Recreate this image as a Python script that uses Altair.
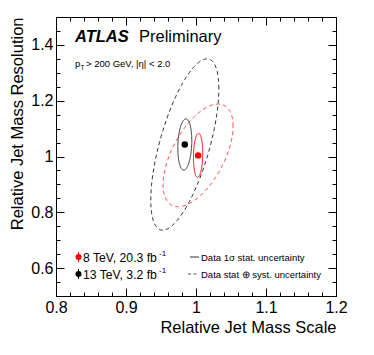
import altair as alt
import numpy as np
import pandas as pd

FONT = "Liberation Sans"

# ---- axis tick values ----
x_major = [0.8, 0.9, 1.0, 1.1, 1.2]
x_minor = [0.8, 0.82, 0.84, 0.86, 0.88, 0.9, 0.92, 0.94, 0.96, 0.98, 1.0,
           1.02, 1.04, 1.06, 1.08, 1.1, 1.12, 1.14, 1.16, 1.18, 1.2]
y_major = [0.6, 0.8, 1.0, 1.2, 1.4]
y_minor = [0.5, 0.55, 0.6, 0.65, 0.7, 0.75, 0.8, 0.85, 0.9, 0.95, 1.0, 1.05,
           1.1, 1.15, 1.2, 1.25, 1.3, 1.35, 1.4, 1.45, 1.5]

# ---- measured points ----
point_names = ["8 TeV, 20.3 fb-1", "13 TeV, 3.2 fb-1"]
point_x = [1.003, 0.984]
point_y = [1.004, 1.043]
point_colors = ["#ff0000", "#000000"]

# ---- uncertainty contours (center, half-extent in x / y, correlation) ----
ell_names = ["13 TeV stat", "8 TeV stat", "13 TeV syst", "8 TeV syst"]
ell_cx = [0.984, 1.003, 0.984, 1.003]
ell_cy = [1.043, 1.004, 1.043, 1.004]
ell_sx = [0.0100, 0.0066, 0.0486, 0.0500]
ell_sy = [0.0920, 0.0790, 0.3070, 0.1840]
ell_rho = [0.15, 0.10, 0.65, 0.57]

rows = []
tt = np.linspace(0, 2 * np.pi, 181)
for n, cx, cy, sx, sy, r in zip(ell_names, ell_cx, ell_cy, ell_sx, ell_sy, ell_rho):
    for i, t in enumerate(tt):
        rows.append({
            "name": n, "i": i,
            "x": cx + sx * np.cos(t),
            "y": cy + sy * (r * np.cos(t) + np.sqrt(1 - r * r) * np.sin(t)),
        })
ell_df = pd.DataFrame(rows)
pts_df = pd.DataFrame({"name": point_names, "x": point_x, "y": point_y, "c": point_colors})

xs = alt.Scale(domain=[0.8, 1.2], nice=False, zero=False)
ys = alt.Scale(domain=[0.5, 1.5], nice=False, zero=False)

LBL = "toString(round(datum.value*10)/10)"
common = dict(domain=False, grid=False, tickColor="black", tickWidth=1)

ax_b_major = alt.Axis(orient="bottom", values=x_major, tickSize=8, offset=-8,
                      labelExpr=LBL, labelFont=FONT, labelFontSize=16, labelColor="black",
                      labelPadding=3, labelFlush=False, labelOverlap=False,
                      title="Relative Jet Mass Scale", titleAnchor="end", titleFont=FONT,
                      titleFontSize=16.5, titleFontWeight="normal", titleColor="black",
                      titlePadding=4, **common)
ax_b_minor = alt.Axis(orient="bottom", values=x_minor, tickSize=4, offset=-4,
                      labels=False, title=None, **common)
ax_t_major = alt.Axis(orient="top", values=x_major, tickSize=8, offset=-8,
                      labels=False, title=None, **common)
ax_t_minor = alt.Axis(orient="top", values=x_minor, tickSize=4, offset=-4,
                      labels=False, title=None, **common)

ax_l_major = alt.Axis(orient="left", values=y_major, tickSize=8, offset=-8,
                      labelExpr=LBL, labelFont=FONT, labelFontSize=16, labelColor="black",
                      labelPadding=3, labelFlush=False, labelOverlap=False,
                      title="Relative Jet Mass Resolution", titleAnchor="end", titleFont=FONT,
                      titleFontSize=16.5, titleFontWeight="normal", titleColor="black",
                      titlePadding=5, **common)
ax_l_minor = alt.Axis(orient="left", values=y_minor, tickSize=4, offset=-4,
                      labels=False, title=None, **common)
ax_r_major = alt.Axis(orient="right", values=y_major, tickSize=8, offset=-8,
                      labels=False, title=None, **common)
ax_r_minor = alt.Axis(orient="right", values=y_minor, tickSize=4, offset=-4,
                      labels=False, title=None, **common)


def ellipse(name, color, xaxis, yaxis, dash=None):
    kw = dict(color=color, strokeWidth=1)
    if dash is not None:
        kw["strokeDash"] = dash
    return alt.Chart(ell_df).transform_filter(
        alt.datum.name == name
    ).mark_line(**kw).encode(
        x=alt.X("x:Q", scale=xs, axis=xaxis),
        y=alt.Y("y:Q", scale=ys, axis=yaxis),
        order=alt.Order("i:Q"),
    )


l_syst13 = ellipse("13 TeV syst", "#303030", ax_b_major, ax_l_major, [4, 3])
l_syst8 = ellipse("8 TeV syst", "#ff4a4a", ax_b_minor, ax_l_minor, [4, 3])
l_stat13 = ellipse("13 TeV stat", "#333333", ax_t_major, ax_r_major)
l_stat8 = ellipse("8 TeV stat", "#ff0000", ax_t_minor, ax_r_minor)

points = alt.Chart(pts_df).mark_point(filled=True, size=42, opacity=1).encode(
    x=alt.X("x:Q", scale=xs, axis=None),
    y=alt.Y("y:Q", scale=ys, axis=None),
    color=alt.Color("c:N", scale=None),
)

# ---- annotations (page pixel positions converted to view coordinates) ----
OX, OY = 56, 17


def txt(s, px, py, size, color="black", weight="normal", style="normal", align="left"):
    return alt.Chart(pd.DataFrame({"t": [s]})).mark_text(
        font=FONT, fontSize=size, fontWeight=weight, fontStyle=style, color=color,
        align=align, baseline="alphabetic",
    ).encode(x=alt.value(px - OX), y=alt.value(py - OY), text="t:N")


def dot(px, py, color):
    d = pd.DataFrame({"a": [0]})
    bar = alt.Chart(d).mark_rule(color=color, strokeWidth=1).encode(
        x=alt.value(px - OX), y=alt.value(py - OY - 5), y2=alt.value(py - OY + 5))
    pt = alt.Chart(d).mark_point(filled=True, size=36, opacity=1, color=color).encode(
        x=alt.value(px - OX), y=alt.value(py - OY))
    return bar + pt


def seg(x1, x2, py, color, dash=None):
    kw = dict(color=color, strokeWidth=1)
    if dash is not None:
        kw["strokeDash"] = dash
    return alt.Chart(pd.DataFrame({"a": [0]})).mark_rule(**kw).encode(
        x=alt.value(x1 - OX), x2=alt.value(x2 - OX), y=alt.value(py - OY))


annot = [
    txt("ATLAS", 75, 41.5, 16.5, weight="bold", style="italic"),
    txt("Preliminary", 139, 41.5, 16.5),
    txt("p", 75, 67, 9.5),
    txt("T", 80.5, 70, 6.5),
    txt("> 200 GeV, |η| < 2.0", 86, 67, 9.5),
    dot(78.5, 257, "#ff0000"),
    dot(78.5, 274, "#000000"),
    txt("8 TeV, 20.3 fb", 83, 261.5, 12.2),
    txt("-1", 159, 256, 8),
    txt("13 TeV, 3.2 fb", 83, 278.5, 12.2),
    txt("-1", 159, 273, 8),
    seg(190, 199, 257, "#333333"),
    seg(188, 199, 274, "#555555", [3, 2.5]),
    txt("Data 1σ stat. uncertainty", 201, 260.5, 9.5),
    txt("Data stat ⊕ syst. uncertainty", 201, 278, 9.5),
]

chart = alt.layer(l_syst13, l_syst8, l_stat13, l_stat8, points, *annot).resolve_axis(
    x="independent", y="independent"
).properties(
    width=280, height=279,
    autosize=alt.AutoSizeParams(type="none"),
    padding={"left": 48, "top": 9, "right": 30, "bottom": 51},
    background="white",
).configure_view(stroke="black", strokeWidth=1)

chart.save("out.html", embed_options={"renderer": "svg", "actions": False})
